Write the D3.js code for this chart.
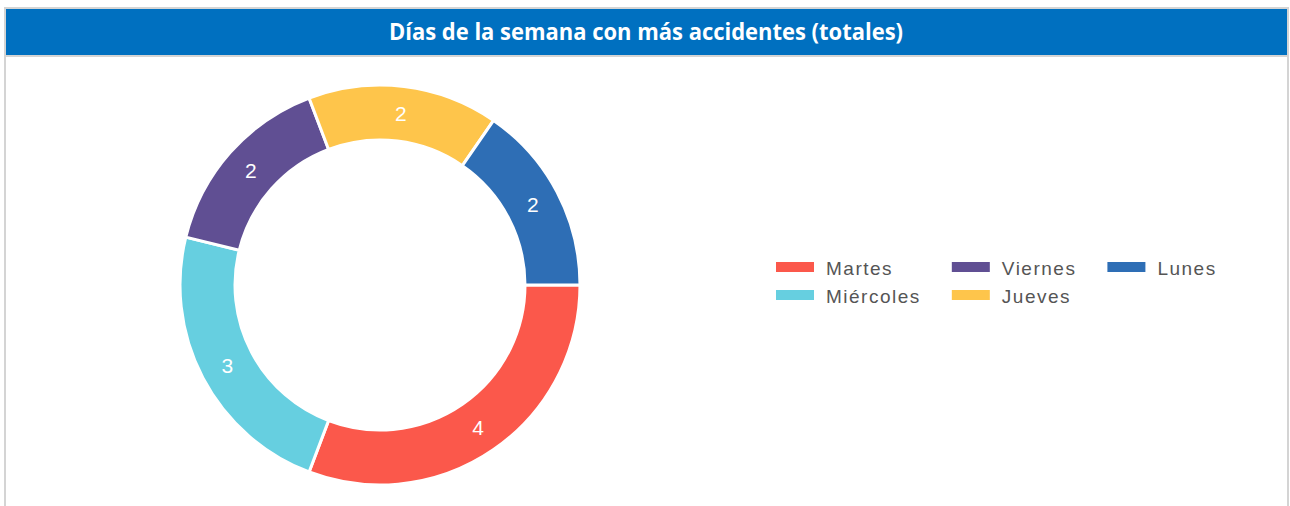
<!DOCTYPE html>
<html><head><meta charset="utf-8">
<script src="https://cdn.jsdelivr.net/npm/d3@7"></script>
<style>
html,body{margin:0;padding:0;background:#fff;}
svg{display:block;}
</style></head>
<body>
<svg id="chart" width="1290" height="506"></svg>
<script>
const title = "Días de la semana con más accidentes (totales)";
const categories = ["Martes", "Miércoles", "Viernes", "Jueves", "Lunes"];
const values = [4, 3, 2, 2, 2];
const colors = ["#FB584B", "#66CFE0", "#604F93", "#FEC54B", "#2E6EB5"];
// legend column-major order (2 rows)
const legendRows = 2;

const svg = d3.select("#chart");

// frame
svg.append("rect").attr("x", 5).attr("y", 8).attr("width", 1283).attr("height", 510)
  .attr("fill", "#fff").attr("stroke", "#d4d4d4").attr("stroke-width", 2);
svg.append("rect").attr("x", 6).attr("y", 9).attr("width", 1281).attr("height", 46)
  .attr("fill", "#0070C0");
svg.append("rect").attr("x", 6).attr("y", 55).attr("width", 1281).attr("height", 2)
  .attr("fill", "#d4d4d4");
svg.append("text").attr("x", 646).attr("y", 40).attr("text-anchor", "middle")
  .attr("fill", "#fff").attr("font-family", "'Open Sans', sans-serif")
  .attr("font-weight", "bold").attr("font-size", 23)
  .attr("textLength", 514).attr("lengthAdjust", "spacingAndGlyphs")
  .text(title);

// donut
const cx = 380, cy = 285, rOuter = 200, rInner = 145;
const data = categories.map((c, i) => ({cat: c, value: values[i], color: colors[i]}));
const pie = d3.pie().value(d => d.value).sort(null)
  .startAngle(Math.PI / 2).endAngle(Math.PI / 2 + 2 * Math.PI);
const arc = d3.arc().innerRadius(rInner).outerRadius(rOuter);
const g = svg.append("g").attr("transform", `translate(${cx},${cy})`);
const arcs = pie(data);
g.selectAll("path").data(arcs).join("path")
  .attr("d", arc).attr("fill", d => d.data.color)
  .attr("stroke", "#fff").attr("stroke-width", 3).attr("stroke-linejoin", "miter");
g.selectAll("text").data(arcs).join("text")
  .attr("transform", d => `translate(${arc.centroid(d)})`)
  .attr("text-anchor", "middle").attr("dy", "0.36em")
  .attr("fill", "#fff").attr("font-family", "'Liberation Sans', Arial, sans-serif")
  .attr("font-size", 21)
  .text(d => d.data.value);

// legend
const lg = svg.append("g");
const lx0 = 776, ly0 = 262, rowH = 28, swW = 38, swH = 10, gapT = 12, colGap = 31;
let x = lx0;
const nCols = Math.ceil(data.length / legendRows);
for (let c = 0; c < nCols; c++) {
  let maxW = 0;
  for (let r = 0; r < legendRows; r++) {
    const i = c * legendRows + r;
    if (i >= data.length) break;
    const y = ly0 + r * rowH;
    lg.append("rect").attr("x", x).attr("y", y).attr("width", swW).attr("height", swH)
      .attr("fill", data[i].color);
    const t = lg.append("text").attr("x", x + swW + gapT).attr("y", y + 13)
      .attr("fill", "#555").attr("font-family", "'Liberation Sans', Arial, sans-serif")
      .attr("font-size", 19).attr("letter-spacing", 1.5)
      .text(data[i].cat);
    maxW = Math.max(maxW, t.node().getComputedTextLength());
  }
  x += swW + gapT + maxW + colGap;
}
</script>
</body></html>
